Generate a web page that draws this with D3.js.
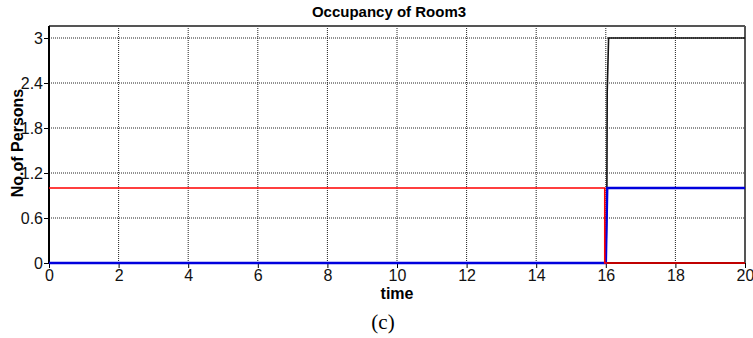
<!DOCTYPE html>
<html><head><meta charset="utf-8">
<script src="https://cdn.jsdelivr.net/npm/d3@7"></script>
<style>html,body{margin:0;padding:0;background:#fff;}</style>
</head><body>
<svg id="c" width="753" height="338"></svg>
<script>
// Data
const xTicks = [0, 2, 4, 6, 8, 10, 12, 14, 16, 18, 20];
const yTicks = [0, 0.6, 1.2, 1.8, 2.4, 3];
const yTickLabels = ["0", "0.6", "1.2", "1.8", "2.4", "3"];
const blackTime = [0, 16.0, 16.03, 16.04, 16.08, 20];
const blackValue = [0, 0, 0.77, 2.27, 3, 3];
const blueTime = [0, 16.0, 16.04, 20];
const blueValue = [0, 0, 1, 1];
const redTime = [0, 15.97, 15.97, 20];
const redValue = [1, 1, 0, 0];

const svg = d3.select("#c");
const L = 49, R = 745, T = 26, B = 263;
const x = d3.scaleLinear().domain([0, 20]).range([L, R]);
const y = d3.scaleLinear().domain([0, 3.16]).range([B, T]);

// grid
const g = svg.append("g");
g.selectAll(".vg").data(xTicks.filter(d => d > 0 && d < 20)).join("line")
  .attr("x1", d => x(d)).attr("x2", d => x(d)).attr("y1", T).attr("y2", B)
  .attr("stroke", "#222").attr("stroke-width", 1).attr("stroke-dasharray", "1,1");
g.selectAll(".hg").data(yTicks.filter(d => d > 0)).join("line")
  .attr("x1", L).attr("x2", R).attr("y1", d => y(d)).attr("y2", d => y(d))
  .attr("stroke", "#222").attr("stroke-width", 1).attr("stroke-dasharray", "1,1");

// frame top/right
svg.append("line").attr("x1", L).attr("x2", R).attr("y1", T).attr("y2", T).attr("stroke", "#555").attr("stroke-width", 2);
svg.append("line").attr("x1", R).attr("x2", R).attr("y1", T).attr("y2", B).attr("stroke", "#555").attr("stroke-width", 2);

// axes
const xa = svg.append("g").attr("transform", `translate(0,${B})`)
  .call(d3.axisBottom(x).tickValues(xTicks).tickSize(5).tickPadding(2).tickSizeOuter(0).tickFormat(d3.format("d")));
const ya = svg.append("g").attr("transform", `translate(${L},0)`)
  .call(d3.axisLeft(y).tickValues(yTicks).tickSize(5).tickPadding(1).tickSizeOuter(0).tickFormat((d, i) => yTickLabels[i]));
[xa, ya].forEach(a => {
  a.select(".domain").attr("stroke", "#000").attr("stroke-width", 2);
  a.selectAll(".tick line").attr("stroke", "#000").attr("stroke-width", 1);
  a.selectAll(".tick text").attr("font-family", "Liberation Sans, Arial, sans-serif").attr("font-size", 16).attr("fill", "#111");
});
ya.select(".domain").attr("d", `M0,${T}V${B}`);
xa.select(".domain").attr("d", `M${L},0H${R}`);

// lines
const line = d3.line().x(d => x(d[0])).y(d => y(d[1]));
const mk = (ts, vs) => ts.map((t, i) => [t, vs[i]]);
svg.append("path").datum(mk(blackTime, blackValue)).attr("d", line)
  .attr("fill", "none").attr("stroke", "#111").attr("stroke-width", 1.6);
svg.append("path").datum(mk(blueTime, blueValue)).attr("d", line)
  .attr("fill", "none").attr("stroke", "#0000dd").attr("stroke-width", 2.5);
svg.append("path").datum(mk(redTime, redValue)).attr("d", line)
  .attr("fill", "none").attr("stroke", "#ff0000").attr("stroke-width", 1.6);

// texts
svg.append("text").attr("x", 389).attr("y", 17).attr("text-anchor", "middle")
  .attr("font-family", "Liberation Sans, Arial, sans-serif").attr("font-weight", "bold").attr("font-size", 15)
  .text("Occupancy of Room3");
svg.append("text").attr("x", 397).attr("y", 299).attr("text-anchor", "middle")
  .attr("font-family", "Liberation Sans, Arial, sans-serif").attr("font-weight", "bold").attr("font-size", 16)
  .text("time");
svg.append("text").attr("transform", "translate(23,143) rotate(-90)").attr("text-anchor", "middle")
  .attr("font-family", "Liberation Sans, Arial, sans-serif").attr("font-weight", "bold").attr("font-size", 16)
  .text("No.of Persons");
svg.append("text").attr("x", 383).attr("y", 329).attr("text-anchor", "middle")
  .attr("font-family", "Liberation Serif, Times New Roman, serif").attr("font-size", 21)
  .text("(c)");
</script>
</body></html>
